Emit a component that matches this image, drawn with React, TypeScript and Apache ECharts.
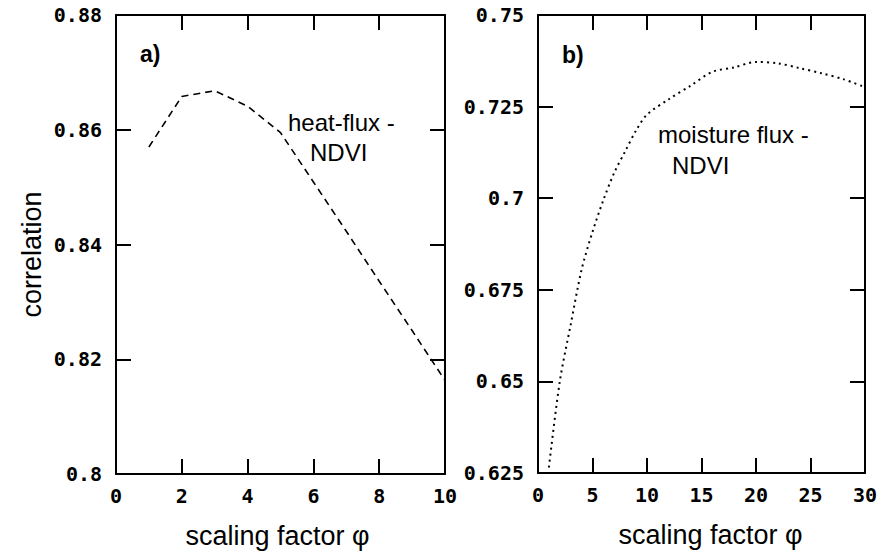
import React, { useEffect, useRef } from "react";
import * as echarts from "echarts";

// panel a) heat-flux - NDVI
const heatPhi = [1, 2, 3, 4, 5, 6, 7, 8, 9, 10];
const heatCorr = [0.857, 0.8658, 0.8668, 0.8641, 0.8595, 0.8509, 0.8423, 0.8336, 0.825, 0.8163];

// panel b) moisture flux - NDVI
const moistPhi = [1, 2, 3, 4, 5, 6, 7, 8, 9, 10, 12, 14, 16, 18, 20, 22, 24, 26, 28, 30];
const moistCorr = [
  0.6265, 0.65, 0.6655, 0.6805, 0.6908, 0.6995, 0.707, 0.7128, 0.7185, 0.7228,
  0.727, 0.7307, 0.7345, 0.7357, 0.7372, 0.7368, 0.7355, 0.7341, 0.7325, 0.7303,
];

// axis ranges / ticks
const aX = { min: 0, max: 10, interval: 2 };
const aY = { min: 0.8, max: 0.88, interval: 0.02 };
const bX = { min: 0, max: 30, interval: 5 };
const bY = { min: 0.625, max: 0.75, interval: 0.025 };

const xTitle = "scaling factor \u03c6";
const yTitle = "correlation";

const SANS = "'Liberation Sans', Arial, Helvetica, sans-serif";
const MONO = "'DejaVu Sans Mono', 'Liberation Mono', monospace";

export default function App() {
  const ref = useRef<HTMLDivElement>(null);

  useEffect(() => {
    if (!ref.current) return;
    const chart = echarts.init(ref.current, undefined, { renderer: "svg" });
    const line = { color: "#000", width: 2 };
    const tick = { show: true, inside: true, length: 15, lineStyle: { color: "#000", width: 2 } };
    const tickLabel = (margin: number) => ({
      show: true,
      color: "#000",
      fontFamily: MONO,
      fontWeight: "bold" as const,
      fontSize: 20,
      margin,
      showMinLabel: true,
      showMaxLabel: true,
    });
    const nameStyle = { color: "#000", fontFamily: SANS, fontSize: 27 };

    const mkX = (grid: number, r: any, pos: "top" | "bottom", withName: boolean, shift: number) => ({
      type: "value",
      gridIndex: grid,
      position: pos,
      min: r.min,
      max: r.max,
      interval: r.interval,
      axisLine: { show: true, onZero: false, lineStyle: line },
      axisTick: tick,
      axisLabel: pos === "bottom" ? tickLabel(12) : { show: false },
      splitLine: { show: false },
      name: withName ? xTitle : "",
      nameLocation: "middle",
      nameGap: 48,
      nameTextStyle: { ...nameStyle, padding: shift >= 0 ? [0, 0, 0, shift] : [0, -shift, 0, 0] },
    });
    const mkY = (grid: number, r: any, pos: "left" | "right", withName: boolean) => ({
      type: "value",
      gridIndex: grid,
      position: pos,
      min: r.min,
      max: r.max,
      interval: r.interval,
      axisLine: { show: true, onZero: false, lineStyle: line },
      axisTick: tick,
      axisLabel: pos === "left" ? tickLabel(14) : { show: false },
      splitLine: { show: false },
      name: withName ? yTitle : "",
      nameLocation: "middle",
      nameGap: 71,
      nameTextStyle: { ...nameStyle, padding: [0, 20, 0, 0] },
    });

    const txt = (text: string, x: number, y: number, size: number, bold = false) => ({
      type: "text",
      x,
      y,
      style: {
        text,
        fill: "#000",
        fontFamily: SANS,
        fontSize: size,
        fontWeight: bold ? "bold" : "normal",
        align: "left",
        verticalAlign: "middle",
      },
    });

    chart.setOption({
      animation: false,
      backgroundColor: "#fff",
      grid: [
        { left: 116, top: 15, width: 329, height: 459 },
        { left: 538, top: 15, width: 330, height: 458 },
      ],
      xAxis: [
        mkX(0, aX, "bottom", true, -6),
        mkX(0, aX, "top", false, 0),
        mkX(1, bX, "bottom", true, 18),
        mkX(1, bX, "top", false, 0),
      ],
      yAxis: [mkY(0, aY, "left", true), mkY(0, aY, "right", false), mkY(1, bY, "left", false), mkY(1, bY, "right", false)],
      series: [
        {
          type: "line",
          name: "heat-flux - NDVI",
          xAxisIndex: 0,
          yAxisIndex: 0,
          data: heatPhi.map((p, i) => [p, heatCorr[i]]),
          symbol: "none",
          lineStyle: { color: "#000", width: 1.6, type: [7, 5] },
        },
        {
          type: "line",
          name: "moisture flux - NDVI",
          xAxisIndex: 2,
          yAxisIndex: 2,
          data: moistPhi.map((p, i) => [p, moistCorr[i]]),
          symbol: "none",
          smooth: 0.3,
          lineStyle: { color: "#000", width: 2, type: [2, 4] },
        },
      ],
      graphic: [
        txt("a)", 140, 54, 23, true),
        txt("b)", 562, 55, 23, true),
        txt("heat-flux -", 288, 122, 24),
        txt("NDVI", 310, 152, 24),
        txt("moisture flux -", 658, 134, 24),
        txt("NDVI", 672, 165, 24),
      ],
    });
    return () => chart.dispose();
  }, []);

  return (
    <div
      ref={ref}
      style={{ position: "fixed", left: 0, top: 0, width: 880, height: 554, background: "#fff" }}
    />
  );
}
